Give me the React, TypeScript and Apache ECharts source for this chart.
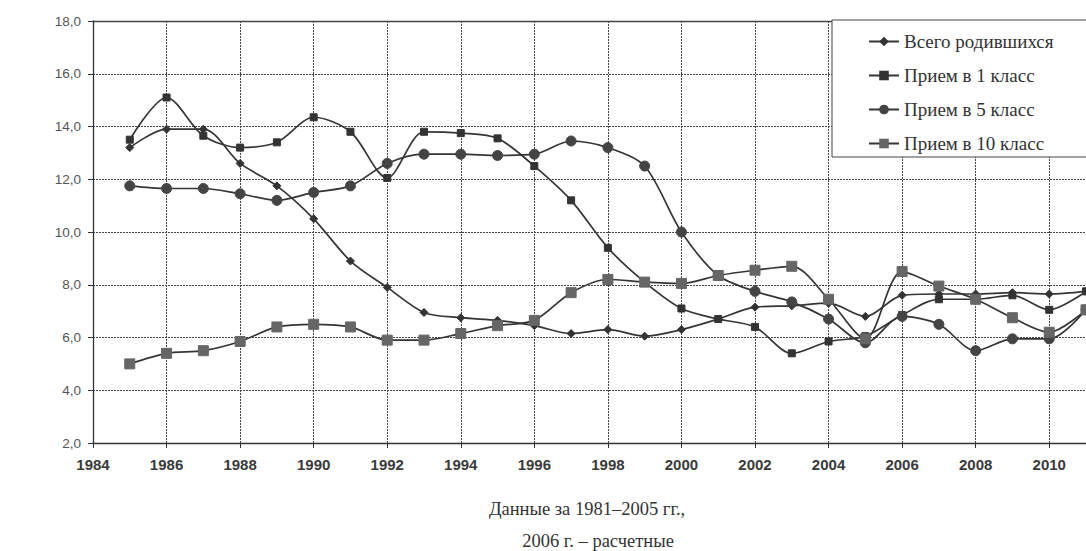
import React, { useEffect, useRef } from "react";
import * as echarts from "echarts";

const years = [1985, 1986, 1987, 1988, 1989, 1990, 1991, 1992, 1993, 1994, 1995, 1996, 1997, 1998, 1999, 2000, 2001, 2002, 2003, 2004, 2005, 2006, 2007, 2008, 2009, 2010, 2011];
const births = [13.2, 13.9, 13.9, 12.6, 11.75, 10.5, 8.9, 7.9, 6.95, 6.75, 6.65, 6.45, 6.15, 6.3, 6.05, 6.3, 6.7, 7.15, 7.2, 7.3, 6.8, 7.6, 7.65, 7.65, 7.7, 7.65, 7.75];
const grade1 = [13.5, 15.1, 13.65, 13.2, 13.4, 14.35, 13.8, 12.05, 13.8, 13.75, 13.55, 12.5, 11.2, 9.4, 8.1, 7.1, 6.7, 6.4, 5.4, 5.85, 6.05, 6.85, 7.45, 7.45, 7.6, 7.05, 7.75];
const grade5 = [11.75, 11.65, 11.65, 11.45, 11.2, 11.5, 11.75, 12.6, 12.95, 12.95, 12.9, 12.95, 13.45, 13.2, 12.5, 10.0, 8.35, 7.75, 7.35, 6.7, 5.8, 6.8, 6.5, 5.5, 5.95, 5.95, 7.05];
const grade10 = [5.0, 5.4, 5.5, 5.85, 6.4, 6.5, 6.4, 5.9, 5.9, 6.15, 6.45, 6.65, 7.7, 8.2, 8.1, 8.05, 8.35, 8.55, 8.7, 7.45, 5.95, 8.5, 7.95, 7.45, 6.75, 6.2, 7.05];
const seriesNames = ["Всего родившихся", "Прием в 1 класс", "Прием в 5 класс", "Прием в 10 класс"];
const captionLines = ["Данные за 1981–2005 гг.,", "2006 г. – расчетные"];

const pairs = (vals: number[]) => years.map((y, i) => [y, vals[i]]);

export default function App() {
  const ref = useRef<HTMLDivElement>(null);
  useEffect(() => {
    if (!ref.current) return;
    const chart = echarts.init(ref.current, null, { renderer: "svg" });
    const lineColor = "#353535";
    const mk = (name: string, data: number[], symbol: string, size: number, color: string) => ({
      name,
      type: "line",
      data: pairs(data),
      smooth: 0.3,
      symbol,
      symbolSize: size,
      lineStyle: { color: lineColor, width: 1.7 },
      itemStyle: { color, borderColor: color },
    });
    const serif = "Liberation Serif, DejaVu Serif, serif";
    chart.setOption({
      animation: false,
      backgroundColor: "#ffffff",
      grid: { left: 93, right: 0, top: 21, bottom: 108 },
      xAxis: [
        {
          type: "value",
          min: 1984,
          max: 2011,
          interval: 2,
          axisLine: { show: true, lineStyle: { color: "#333", width: 1.3 } },
          axisTick: { show: true, length: 5, lineStyle: { color: "#333" } },
          axisLabel: {
            margin: 14,
            color: "#3a3a3a",
            fontFamily: "Liberation Sans, Arial, sans-serif",
            fontWeight: "bold",
            fontSize: 15,
            showMaxLabel: false,
            formatter: (v: number) => (v % 2 === 0 ? String(v) : ""),
          },
          splitLine: { show: true, lineStyle: { color: "#444", type: [2, 1], width: 1 } },
        },
        {
          type: "value",
          position: "top",
          min: 1984,
          max: 2011,
          interval: 2,
          axisLine: { show: true, lineStyle: { color: "#444", width: 1.3 } },
          axisTick: { show: false },
          axisLabel: { show: false },
          splitLine: { show: false },
        },
      ],
      yAxis: {
        type: "value",
        min: 2,
        max: 18,
        interval: 2,
        axisLine: { show: true, lineStyle: { color: "#333", width: 1.3 } },
        axisTick: { show: true, inside: false, length: 5, lineStyle: { color: "#333" } },
        axisLabel: {
          margin: 12,
          color: "#555",
          fontFamily: "Liberation Sans, Arial, sans-serif",
          fontSize: 13.5,
          formatter: (v: number) => v.toFixed(1).replace(".", ","),
        },
        splitLine: { show: true, lineStyle: { color: "#444", type: [2, 1], width: 1 } },
      },
      legend: {
        orient: "vertical",
        left: 832,
        top: 20,
        padding: [12, 40, 4, 36],
        itemWidth: 30,
        itemHeight: 12,
        itemGap: 15,
        backgroundColor: "#ffffff",
        borderColor: "#444",
        borderWidth: 1,
        borderRadius: 0,
        textStyle: { fontFamily: serif, fontSize: 19, color: "#333" },
        data: seriesNames,
      },
      series: [
        mk(seriesNames[0], births, "diamond", 8, "#333"),
        mk(seriesNames[1], grade1, "rect", 7, "#333"),
        mk(seriesNames[2], grade5, "circle", 10, "#444"),
        mk(seriesNames[3], grade10, "rect", 10, "#666"),
      ],
      graphic: [
        {
          type: "text",
          x: 587,
          y: 509,
          style: {
            text: captionLines[0],
            align: "center",
            verticalAlign: "middle",
            fontFamily: serif,
            fontSize: 18.5,
            fill: "#333",
          },
        },
        {
          type: "text",
          x: 598,
          y: 541,
          style: {
            text: captionLines[1],
            align: "center",
            verticalAlign: "middle",
            fontFamily: serif,
            fontSize: 18.5,
            fill: "#333",
          },
        },
      ],
    });
    return () => chart.dispose();
  }, []);
  return <div ref={ref} style={{ position: "absolute", left: 0, top: 0, width: 1086, height: 551 }} />;
}
